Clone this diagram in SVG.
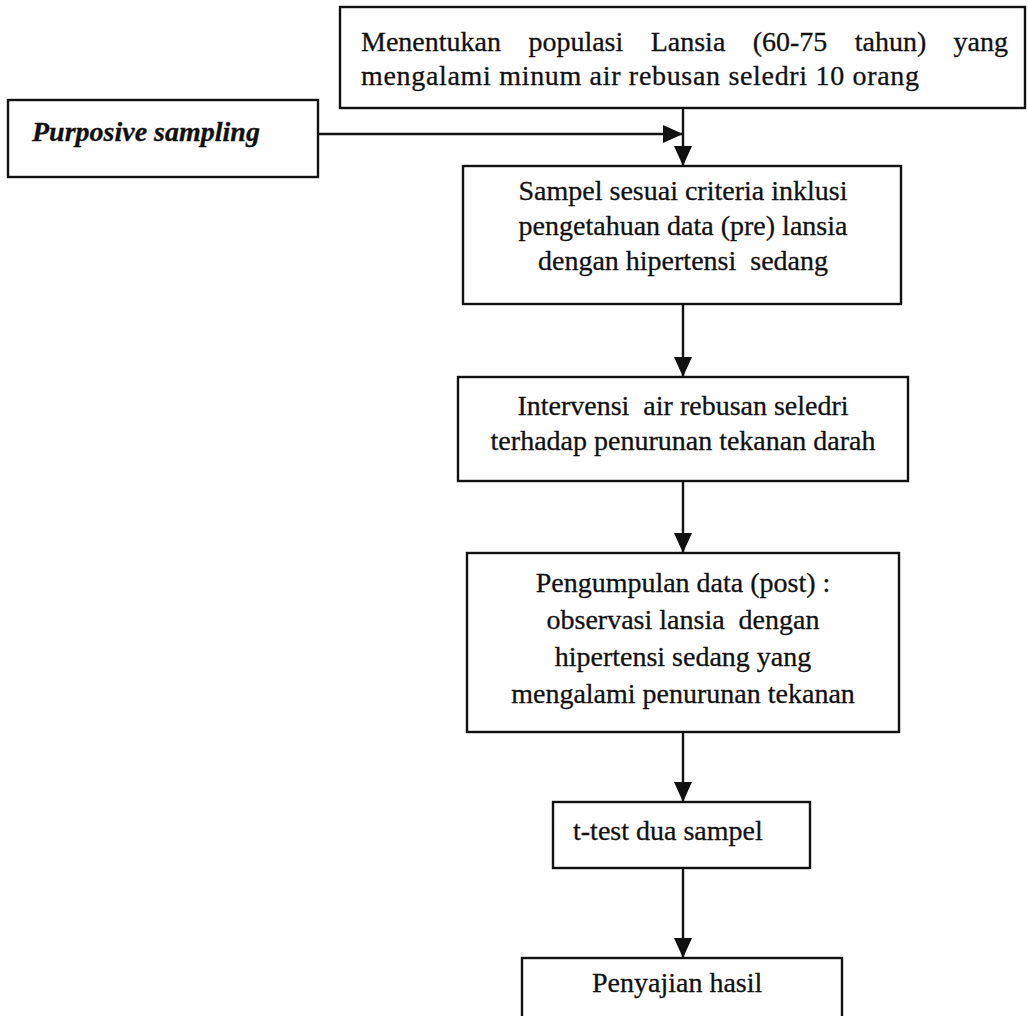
<svg xmlns="http://www.w3.org/2000/svg" width="1028" height="1016" viewBox="0 0 1028 1016">
<style>
.box{fill:#fff;stroke:#111;stroke-width:2.4}
.t{font-family:"Liberation Serif","Times New Roman",serif;font-size:28px;fill:#111;stroke:#111;stroke-width:0.3}
.c{text-anchor:middle}
.ln{stroke:#111;stroke-width:2.4;fill:none}
</style>
<defs>
<marker id="av" viewBox="0 0 20 18" refX="20" refY="9" markerWidth="20" markerHeight="18" markerUnits="userSpaceOnUse" orient="auto">
<path d="M0,0 L20,9 L0,18 Z" fill="#111"/>
</marker>
</defs>
<rect width="1028" height="1016" fill="#fff"/>
<g id="connectors">
<line class="ln" x1="318" y1="134" x2="683" y2="134" marker-end="url(#av)"/>
<line class="ln" x1="683" y1="108" x2="683" y2="166" marker-end="url(#av)"/>
<line class="ln" x1="683" y1="304" x2="683" y2="377" marker-end="url(#av)"/>
<line class="ln" x1="683" y1="481" x2="683" y2="553" marker-end="url(#av)"/>
<line class="ln" x1="683" y1="732" x2="683" y2="802" marker-end="url(#av)"/>
<line class="ln" x1="683" y1="868" x2="683" y2="958" marker-end="url(#av)"/>
</g>
<g id="node-populasi">
<rect class="box" x="340" y="7" width="685" height="101"/>
<text class="t" y="51"><tspan x="361">Menentukan</tspan><tspan x="528.4">populasi</tspan><tspan x="650.7">Lansia</tspan><tspan x="752.7">(60-75</tspan><tspan x="854.7">tahun)</tspan><tspan x="1008" text-anchor="end">yang</tspan></text>
<text class="t" x="361" y="85" textLength="558">mengalami minum air rebusan seledri 10 orang</text>
</g>
<g id="node-purposive">
<rect class="box" x="8" y="100" width="310" height="77"/>
<text class="t" x="32" y="141" font-style="italic" font-weight="bold">Purposive sampling</text>
</g>
<g id="node-sampel">
<rect class="box" x="463" y="166" width="438" height="138"/>
<text class="t c" x="683" y="200">Sampel sesuai criteria inklusi</text>
<text class="t c" x="683" y="235">pengetahuan data (pre) lansia</text>
<text class="t c" x="683" y="270" xml:space="preserve">dengan hipertensi  sedang</text>
</g>
<g id="node-intervensi">
<rect class="box" x="458" y="377" width="450" height="104"/>
<text class="t c" x="683" y="415" xml:space="preserve">Intervensi  air rebusan seledri</text>
<text class="t c" x="683" y="450">terhadap penurunan tekanan darah</text>
</g>
<g id="node-pengumpulan">
<rect class="box" x="467" y="553" width="432" height="179"/>
<text class="t c" x="683" y="592">Pengumpulan data (post) :</text>
<text class="t c" x="683" y="629" xml:space="preserve">observasi lansia  dengan</text>
<text class="t c" x="683" y="666">hipertensi sedang yang</text>
<text class="t c" x="683" y="703">mengalami penurunan tekanan</text>
</g>
<g id="node-ttest">
<rect class="box" x="553" y="802" width="257" height="66"/>
<text class="t" x="573" y="840" font-size="29">t-test dua sampel</text>
</g>
<g id="node-penyajian">
<rect class="box" x="522" y="958" width="320" height="70"/>
<text class="t" x="592" y="992">Penyajian hasil</text>
</g>
</svg>
